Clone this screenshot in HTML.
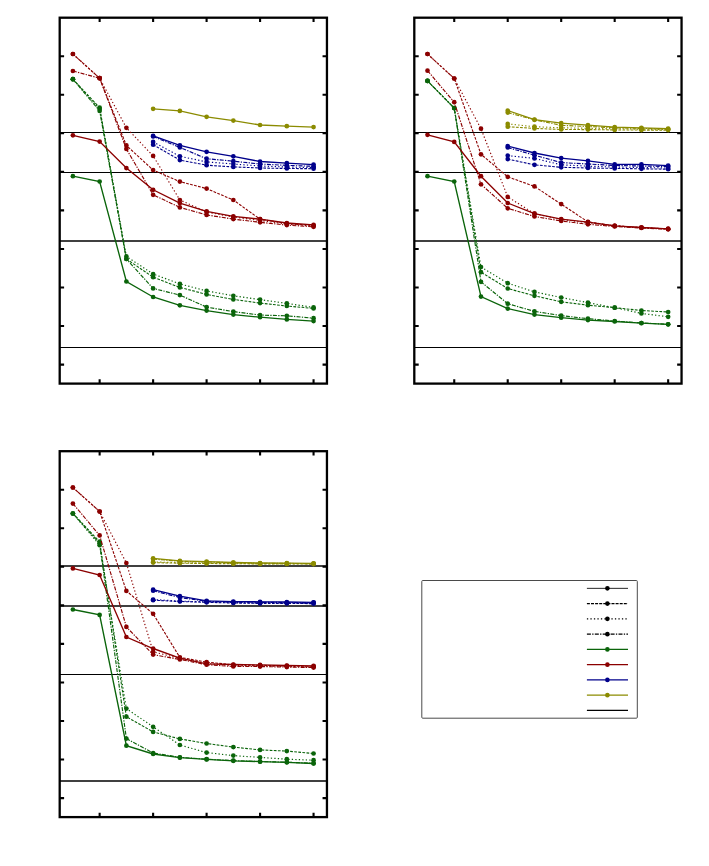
<!DOCTYPE html>
<html><head><meta charset="utf-8"><title>chart</title>
<style>html,body{margin:0;padding:0;background:#fff;font-family:"Liberation Sans",sans-serif}svg{display:block}</style>
</head><body>
<svg width="709" height="866" viewBox="0 0 709 866">
<rect width="709" height="866" fill="#fff"/>
<g transform="translate(0,0)">
<line x1="59.7" x2="326.95" y1="132.5" y2="132.5" stroke="#000" stroke-width="1.15"/>
<line x1="59.7" x2="326.95" y1="172.5" y2="172.5" stroke="#000" stroke-width="1.15"/>
<line x1="59.7" x2="326.95" y1="241.0" y2="241.0" stroke="#000" stroke-width="1.4"/>
<line x1="59.7" x2="326.95" y1="347.5" y2="347.5" stroke="#000" stroke-width="1.15"/>
<polyline points="72.90,79.20 99.64,107.70 126.38,259.00 153.12,277.20 179.86,287.40 206.60,294.40 233.34,299.40 260.08,303.10 286.82,306.00 313.56,308.40" fill="none" stroke="#0a640a" stroke-width="1.1" stroke-dasharray="2.75 1.35"/>
<circle cx="72.90" cy="79.20" r="2.35" fill="#0a640a"/>
<circle cx="99.64" cy="107.70" r="2.35" fill="#0a640a"/>
<circle cx="126.38" cy="259.00" r="2.35" fill="#0a640a"/>
<circle cx="153.12" cy="277.20" r="2.35" fill="#0a640a"/>
<circle cx="179.86" cy="287.40" r="2.35" fill="#0a640a"/>
<circle cx="206.60" cy="294.40" r="2.35" fill="#0a640a"/>
<circle cx="233.34" cy="299.40" r="2.35" fill="#0a640a"/>
<circle cx="260.08" cy="303.10" r="2.35" fill="#0a640a"/>
<circle cx="286.82" cy="306.00" r="2.35" fill="#0a640a"/>
<circle cx="313.56" cy="308.40" r="2.35" fill="#0a640a"/>
<polyline points="72.90,79.20 99.64,109.00 126.38,256.40 153.12,274.00 179.86,283.90 206.60,290.90 233.34,295.80 260.08,299.60 286.82,303.40 313.56,307.40" fill="none" stroke="#0a640a" stroke-width="1.15" stroke-dasharray="1.3 2.2"/>
<circle cx="72.90" cy="79.20" r="2.35" fill="#0a640a"/>
<circle cx="99.64" cy="109.00" r="2.35" fill="#0a640a"/>
<circle cx="126.38" cy="256.40" r="2.35" fill="#0a640a"/>
<circle cx="153.12" cy="274.00" r="2.35" fill="#0a640a"/>
<circle cx="179.86" cy="283.90" r="2.35" fill="#0a640a"/>
<circle cx="206.60" cy="290.90" r="2.35" fill="#0a640a"/>
<circle cx="233.34" cy="295.80" r="2.35" fill="#0a640a"/>
<circle cx="260.08" cy="299.60" r="2.35" fill="#0a640a"/>
<circle cx="286.82" cy="303.40" r="2.35" fill="#0a640a"/>
<circle cx="313.56" cy="307.40" r="2.35" fill="#0a640a"/>
<polyline points="72.90,79.20 99.64,110.90 126.38,259.00 153.12,288.40 179.86,295.10 206.60,307.10 233.34,311.60 260.08,315.10 286.82,315.80 313.56,318.20" fill="none" stroke="#0a640a" stroke-width="1.15" stroke-dasharray="4 1.3 1.3 1.3"/>
<circle cx="72.90" cy="79.20" r="2.35" fill="#0a640a"/>
<circle cx="99.64" cy="110.90" r="2.35" fill="#0a640a"/>
<circle cx="126.38" cy="259.00" r="2.35" fill="#0a640a"/>
<circle cx="153.12" cy="288.40" r="2.35" fill="#0a640a"/>
<circle cx="179.86" cy="295.10" r="2.35" fill="#0a640a"/>
<circle cx="206.60" cy="307.10" r="2.35" fill="#0a640a"/>
<circle cx="233.34" cy="311.60" r="2.35" fill="#0a640a"/>
<circle cx="260.08" cy="315.10" r="2.35" fill="#0a640a"/>
<circle cx="286.82" cy="315.80" r="2.35" fill="#0a640a"/>
<circle cx="313.56" cy="318.20" r="2.35" fill="#0a640a"/>
<polyline points="72.90,176.20 99.64,181.50 126.38,281.50 153.12,297.00 179.86,305.30 206.60,310.60 233.34,314.60 260.08,317.20 286.82,319.40 313.56,321.10" fill="none" stroke="#0a640a" stroke-width="1.35"/>
<circle cx="72.90" cy="176.20" r="2.35" fill="#0a640a"/>
<circle cx="99.64" cy="181.50" r="2.35" fill="#0a640a"/>
<circle cx="126.38" cy="281.50" r="2.35" fill="#0a640a"/>
<circle cx="153.12" cy="297.00" r="2.35" fill="#0a640a"/>
<circle cx="179.86" cy="305.30" r="2.35" fill="#0a640a"/>
<circle cx="206.60" cy="310.60" r="2.35" fill="#0a640a"/>
<circle cx="233.34" cy="314.60" r="2.35" fill="#0a640a"/>
<circle cx="260.08" cy="317.20" r="2.35" fill="#0a640a"/>
<circle cx="286.82" cy="319.40" r="2.35" fill="#0a640a"/>
<circle cx="313.56" cy="321.10" r="2.35" fill="#0a640a"/>
<polyline points="72.90,54.00 99.64,78.20 126.38,145.40 153.12,170.10 179.86,181.60 206.60,188.60 233.34,200.00 260.08,219.20 286.82,223.50 313.56,225.50" fill="none" stroke="#8b0000" stroke-width="1.1" stroke-dasharray="2.75 1.35"/>
<circle cx="72.90" cy="54.00" r="2.35" fill="#8b0000"/>
<circle cx="99.64" cy="78.20" r="2.35" fill="#8b0000"/>
<circle cx="126.38" cy="145.40" r="2.35" fill="#8b0000"/>
<circle cx="153.12" cy="170.10" r="2.35" fill="#8b0000"/>
<circle cx="179.86" cy="181.60" r="2.35" fill="#8b0000"/>
<circle cx="206.60" cy="188.60" r="2.35" fill="#8b0000"/>
<circle cx="233.34" cy="200.00" r="2.35" fill="#8b0000"/>
<circle cx="260.08" cy="219.20" r="2.35" fill="#8b0000"/>
<circle cx="286.82" cy="223.50" r="2.35" fill="#8b0000"/>
<circle cx="313.56" cy="225.50" r="2.35" fill="#8b0000"/>
<polyline points="72.90,54.00 99.64,78.20 126.38,127.80 153.12,155.90 179.86,200.00 206.60,212.00 233.34,217.00 260.08,220.50 286.82,224.00 313.56,226.00" fill="none" stroke="#8b0000" stroke-width="1.15" stroke-dasharray="1.3 2.2"/>
<circle cx="72.90" cy="54.00" r="2.35" fill="#8b0000"/>
<circle cx="99.64" cy="78.20" r="2.35" fill="#8b0000"/>
<circle cx="126.38" cy="127.80" r="2.35" fill="#8b0000"/>
<circle cx="153.12" cy="155.90" r="2.35" fill="#8b0000"/>
<circle cx="179.86" cy="200.00" r="2.35" fill="#8b0000"/>
<circle cx="206.60" cy="212.00" r="2.35" fill="#8b0000"/>
<circle cx="233.34" cy="217.00" r="2.35" fill="#8b0000"/>
<circle cx="260.08" cy="220.50" r="2.35" fill="#8b0000"/>
<circle cx="286.82" cy="224.00" r="2.35" fill="#8b0000"/>
<circle cx="313.56" cy="226.00" r="2.35" fill="#8b0000"/>
<polyline points="72.90,71.00 99.64,78.20 126.38,148.90 153.12,194.80 179.86,207.40 206.60,214.90 233.34,219.10 260.08,222.30 286.82,225.10 313.56,226.80" fill="none" stroke="#8b0000" stroke-width="1.15" stroke-dasharray="4 1.3 1.3 1.3"/>
<circle cx="72.90" cy="71.00" r="2.35" fill="#8b0000"/>
<circle cx="99.64" cy="78.20" r="2.35" fill="#8b0000"/>
<circle cx="126.38" cy="148.90" r="2.35" fill="#8b0000"/>
<circle cx="153.12" cy="194.80" r="2.35" fill="#8b0000"/>
<circle cx="179.86" cy="207.40" r="2.35" fill="#8b0000"/>
<circle cx="206.60" cy="214.90" r="2.35" fill="#8b0000"/>
<circle cx="233.34" cy="219.10" r="2.35" fill="#8b0000"/>
<circle cx="260.08" cy="222.30" r="2.35" fill="#8b0000"/>
<circle cx="286.82" cy="225.10" r="2.35" fill="#8b0000"/>
<circle cx="313.56" cy="226.80" r="2.35" fill="#8b0000"/>
<polyline points="72.90,135.30 99.64,141.60 126.38,168.10 153.12,189.80 179.86,203.10 206.60,211.30 233.34,216.30 260.08,219.20 286.82,223.00 313.56,224.90" fill="none" stroke="#8b0000" stroke-width="1.35"/>
<circle cx="72.90" cy="135.30" r="2.35" fill="#8b0000"/>
<circle cx="99.64" cy="141.60" r="2.35" fill="#8b0000"/>
<circle cx="126.38" cy="168.10" r="2.35" fill="#8b0000"/>
<circle cx="153.12" cy="189.80" r="2.35" fill="#8b0000"/>
<circle cx="179.86" cy="203.10" r="2.35" fill="#8b0000"/>
<circle cx="206.60" cy="211.30" r="2.35" fill="#8b0000"/>
<circle cx="233.34" cy="216.30" r="2.35" fill="#8b0000"/>
<circle cx="260.08" cy="219.20" r="2.35" fill="#8b0000"/>
<circle cx="286.82" cy="223.00" r="2.35" fill="#8b0000"/>
<circle cx="313.56" cy="224.90" r="2.35" fill="#8b0000"/>
<polyline points="153.12,144.70 179.86,160.10 206.60,165.20 233.34,166.90 260.08,168.00 286.82,168.50 313.56,168.70" fill="none" stroke="#00008b" stroke-width="1.1" stroke-dasharray="2.75 1.35"/>
<circle cx="153.12" cy="144.70" r="2.35" fill="#00008b"/>
<circle cx="179.86" cy="160.10" r="2.35" fill="#00008b"/>
<circle cx="206.60" cy="165.20" r="2.35" fill="#00008b"/>
<circle cx="233.34" cy="166.90" r="2.35" fill="#00008b"/>
<circle cx="260.08" cy="168.00" r="2.35" fill="#00008b"/>
<circle cx="286.82" cy="168.50" r="2.35" fill="#00008b"/>
<circle cx="313.56" cy="168.70" r="2.35" fill="#00008b"/>
<polyline points="153.12,141.90 179.86,156.30 206.60,161.90 233.34,164.00 260.08,166.00 286.82,167.00 313.56,167.60" fill="none" stroke="#00008b" stroke-width="1.15" stroke-dasharray="1.3 2.2"/>
<circle cx="153.12" cy="141.90" r="2.35" fill="#00008b"/>
<circle cx="179.86" cy="156.30" r="2.35" fill="#00008b"/>
<circle cx="206.60" cy="161.90" r="2.35" fill="#00008b"/>
<circle cx="233.34" cy="164.00" r="2.35" fill="#00008b"/>
<circle cx="260.08" cy="166.00" r="2.35" fill="#00008b"/>
<circle cx="286.82" cy="167.00" r="2.35" fill="#00008b"/>
<circle cx="313.56" cy="167.60" r="2.35" fill="#00008b"/>
<polyline points="153.12,136.50 179.86,147.50 206.60,158.70 233.34,161.20 260.08,164.00 286.82,165.40 313.56,166.30" fill="none" stroke="#00008b" stroke-width="1.15" stroke-dasharray="4 1.3 1.3 1.3"/>
<circle cx="153.12" cy="136.50" r="2.35" fill="#00008b"/>
<circle cx="179.86" cy="147.50" r="2.35" fill="#00008b"/>
<circle cx="206.60" cy="158.70" r="2.35" fill="#00008b"/>
<circle cx="233.34" cy="161.20" r="2.35" fill="#00008b"/>
<circle cx="260.08" cy="164.00" r="2.35" fill="#00008b"/>
<circle cx="286.82" cy="165.40" r="2.35" fill="#00008b"/>
<circle cx="313.56" cy="166.30" r="2.35" fill="#00008b"/>
<polyline points="153.12,135.80 179.86,145.30 206.60,151.80 233.34,156.30 260.08,161.50 286.82,163.20 313.56,164.60" fill="none" stroke="#00008b" stroke-width="1.35"/>
<circle cx="153.12" cy="135.80" r="2.35" fill="#00008b"/>
<circle cx="179.86" cy="145.30" r="2.35" fill="#00008b"/>
<circle cx="206.60" cy="151.80" r="2.35" fill="#00008b"/>
<circle cx="233.34" cy="156.30" r="2.35" fill="#00008b"/>
<circle cx="260.08" cy="161.50" r="2.35" fill="#00008b"/>
<circle cx="286.82" cy="163.20" r="2.35" fill="#00008b"/>
<circle cx="313.56" cy="164.60" r="2.35" fill="#00008b"/>
<polyline points="153.12,108.80 179.86,110.90 206.60,116.80 233.34,120.60 260.08,125.00 286.82,126.20 313.56,127.10" fill="none" stroke="#8b8b00" stroke-width="1.35"/>
<circle cx="153.12" cy="108.80" r="2.35" fill="#8b8b00"/>
<circle cx="179.86" cy="110.90" r="2.35" fill="#8b8b00"/>
<circle cx="206.60" cy="116.80" r="2.35" fill="#8b8b00"/>
<circle cx="233.34" cy="120.60" r="2.35" fill="#8b8b00"/>
<circle cx="260.08" cy="125.00" r="2.35" fill="#8b8b00"/>
<circle cx="286.82" cy="126.20" r="2.35" fill="#8b8b00"/>
<circle cx="313.56" cy="127.10" r="2.35" fill="#8b8b00"/>
<path d="M59.7,56.20h4.4M326.95,56.20h-4.4M59.7,94.75h4.4M326.95,94.75h-4.4M59.7,133.30h4.4M326.95,133.30h-4.4M59.7,171.85h4.4M326.95,171.85h-4.4M59.7,210.40h4.4M326.95,210.40h-4.4M59.7,248.95h4.4M326.95,248.95h-4.4M59.7,287.50h4.4M326.95,287.50h-4.4M59.7,326.05h4.4M326.95,326.05h-4.4M59.7,364.60h4.4M326.95,364.60h-4.4M99.64,17.7v4.4M99.64,383.6v-4.4M153.12,17.7v4.4M153.12,383.6v-4.4M206.60,17.7v4.4M206.60,383.6v-4.4M260.08,17.7v4.4M260.08,383.6v-4.4M313.56,17.7v4.4M313.56,383.6v-4.4" stroke="#000" stroke-width="2.1" fill="none"/>
<rect x="59.7" y="17.7" width="267.25" height="365.90" fill="none" stroke="#000" stroke-width="2.3"/>
</g>
<g transform="translate(354.6,0)">
<line x1="59.7" x2="326.95" y1="132.5" y2="132.5" stroke="#000" stroke-width="1.15"/>
<line x1="59.7" x2="326.95" y1="172.5" y2="172.5" stroke="#000" stroke-width="1.15"/>
<line x1="59.7" x2="326.95" y1="241.0" y2="241.0" stroke="#000" stroke-width="1.4"/>
<line x1="59.7" x2="326.95" y1="347.5" y2="347.5" stroke="#000" stroke-width="1.15"/>
<polyline points="72.90,80.90 99.64,108.10 126.38,272.20 153.12,288.50 179.86,295.80 206.60,301.80 233.34,305.20 260.08,307.70 286.82,310.50 313.56,312.00" fill="none" stroke="#0a640a" stroke-width="1.1" stroke-dasharray="2.75 1.35"/>
<circle cx="72.90" cy="80.90" r="2.35" fill="#0a640a"/>
<circle cx="99.64" cy="108.10" r="2.35" fill="#0a640a"/>
<circle cx="126.38" cy="272.20" r="2.35" fill="#0a640a"/>
<circle cx="153.12" cy="288.50" r="2.35" fill="#0a640a"/>
<circle cx="179.86" cy="295.80" r="2.35" fill="#0a640a"/>
<circle cx="206.60" cy="301.80" r="2.35" fill="#0a640a"/>
<circle cx="233.34" cy="305.20" r="2.35" fill="#0a640a"/>
<circle cx="260.08" cy="307.70" r="2.35" fill="#0a640a"/>
<circle cx="286.82" cy="310.50" r="2.35" fill="#0a640a"/>
<circle cx="313.56" cy="312.00" r="2.35" fill="#0a640a"/>
<polyline points="72.90,80.90 99.64,108.10 126.38,267.00 153.12,283.20 179.86,291.90 206.60,297.50 233.34,302.60 260.08,307.70 286.82,313.40 313.56,316.80" fill="none" stroke="#0a640a" stroke-width="1.15" stroke-dasharray="1.3 2.2"/>
<circle cx="72.90" cy="80.90" r="2.35" fill="#0a640a"/>
<circle cx="99.64" cy="108.10" r="2.35" fill="#0a640a"/>
<circle cx="126.38" cy="267.00" r="2.35" fill="#0a640a"/>
<circle cx="153.12" cy="283.20" r="2.35" fill="#0a640a"/>
<circle cx="179.86" cy="291.90" r="2.35" fill="#0a640a"/>
<circle cx="206.60" cy="297.50" r="2.35" fill="#0a640a"/>
<circle cx="233.34" cy="302.60" r="2.35" fill="#0a640a"/>
<circle cx="260.08" cy="307.70" r="2.35" fill="#0a640a"/>
<circle cx="286.82" cy="313.40" r="2.35" fill="#0a640a"/>
<circle cx="313.56" cy="316.80" r="2.35" fill="#0a640a"/>
<polyline points="72.90,80.90 99.64,108.10 126.38,281.80 153.12,303.70 179.86,311.40 206.60,315.60 233.34,318.70 260.08,321.00 286.82,323.00 313.56,324.30" fill="none" stroke="#0a640a" stroke-width="1.15" stroke-dasharray="4 1.3 1.3 1.3"/>
<circle cx="72.90" cy="80.90" r="2.35" fill="#0a640a"/>
<circle cx="99.64" cy="108.10" r="2.35" fill="#0a640a"/>
<circle cx="126.38" cy="281.80" r="2.35" fill="#0a640a"/>
<circle cx="153.12" cy="303.70" r="2.35" fill="#0a640a"/>
<circle cx="179.86" cy="311.40" r="2.35" fill="#0a640a"/>
<circle cx="206.60" cy="315.60" r="2.35" fill="#0a640a"/>
<circle cx="233.34" cy="318.70" r="2.35" fill="#0a640a"/>
<circle cx="260.08" cy="321.00" r="2.35" fill="#0a640a"/>
<circle cx="286.82" cy="323.00" r="2.35" fill="#0a640a"/>
<circle cx="313.56" cy="324.30" r="2.35" fill="#0a640a"/>
<polyline points="72.90,176.20 99.64,181.50 126.38,296.60 153.12,308.60 179.86,314.60 206.60,317.70 233.34,320.10 260.08,321.50 286.82,323.20 313.56,324.30" fill="none" stroke="#0a640a" stroke-width="1.35"/>
<circle cx="72.90" cy="176.20" r="2.35" fill="#0a640a"/>
<circle cx="99.64" cy="181.50" r="2.35" fill="#0a640a"/>
<circle cx="126.38" cy="296.60" r="2.35" fill="#0a640a"/>
<circle cx="153.12" cy="308.60" r="2.35" fill="#0a640a"/>
<circle cx="179.86" cy="314.60" r="2.35" fill="#0a640a"/>
<circle cx="206.60" cy="317.70" r="2.35" fill="#0a640a"/>
<circle cx="233.34" cy="320.10" r="2.35" fill="#0a640a"/>
<circle cx="260.08" cy="321.50" r="2.35" fill="#0a640a"/>
<circle cx="286.82" cy="323.20" r="2.35" fill="#0a640a"/>
<circle cx="313.56" cy="324.30" r="2.35" fill="#0a640a"/>
<polyline points="72.90,54.00 99.64,78.50 126.38,154.30 153.12,176.80 179.86,186.40 206.60,204.10 233.34,221.90 260.08,225.80 286.82,227.50 313.56,228.90" fill="none" stroke="#8b0000" stroke-width="1.1" stroke-dasharray="2.75 1.35"/>
<circle cx="72.90" cy="54.00" r="2.35" fill="#8b0000"/>
<circle cx="99.64" cy="78.50" r="2.35" fill="#8b0000"/>
<circle cx="126.38" cy="154.30" r="2.35" fill="#8b0000"/>
<circle cx="153.12" cy="176.80" r="2.35" fill="#8b0000"/>
<circle cx="179.86" cy="186.40" r="2.35" fill="#8b0000"/>
<circle cx="206.60" cy="204.10" r="2.35" fill="#8b0000"/>
<circle cx="233.34" cy="221.90" r="2.35" fill="#8b0000"/>
<circle cx="260.08" cy="225.80" r="2.35" fill="#8b0000"/>
<circle cx="286.82" cy="227.50" r="2.35" fill="#8b0000"/>
<circle cx="313.56" cy="228.90" r="2.35" fill="#8b0000"/>
<polyline points="72.90,54.00 99.64,78.50 126.38,128.70 153.12,196.90 179.86,213.70 206.60,219.50 233.34,222.50 260.08,225.80 286.82,227.50 313.56,228.90" fill="none" stroke="#8b0000" stroke-width="1.15" stroke-dasharray="1.3 2.2"/>
<circle cx="72.90" cy="54.00" r="2.35" fill="#8b0000"/>
<circle cx="99.64" cy="78.50" r="2.35" fill="#8b0000"/>
<circle cx="126.38" cy="128.70" r="2.35" fill="#8b0000"/>
<circle cx="153.12" cy="196.90" r="2.35" fill="#8b0000"/>
<circle cx="179.86" cy="213.70" r="2.35" fill="#8b0000"/>
<circle cx="206.60" cy="219.50" r="2.35" fill="#8b0000"/>
<circle cx="233.34" cy="222.50" r="2.35" fill="#8b0000"/>
<circle cx="260.08" cy="225.80" r="2.35" fill="#8b0000"/>
<circle cx="286.82" cy="227.50" r="2.35" fill="#8b0000"/>
<circle cx="313.56" cy="228.90" r="2.35" fill="#8b0000"/>
<polyline points="72.90,70.70 99.64,102.20 126.38,184.30 153.12,208.30 179.86,216.50 206.60,221.00 233.34,224.30 260.08,226.50 286.82,228.00 313.56,229.30" fill="none" stroke="#8b0000" stroke-width="1.15" stroke-dasharray="4 1.3 1.3 1.3"/>
<circle cx="72.90" cy="70.70" r="2.35" fill="#8b0000"/>
<circle cx="99.64" cy="102.20" r="2.35" fill="#8b0000"/>
<circle cx="126.38" cy="184.30" r="2.35" fill="#8b0000"/>
<circle cx="153.12" cy="208.30" r="2.35" fill="#8b0000"/>
<circle cx="179.86" cy="216.50" r="2.35" fill="#8b0000"/>
<circle cx="206.60" cy="221.00" r="2.35" fill="#8b0000"/>
<circle cx="233.34" cy="224.30" r="2.35" fill="#8b0000"/>
<circle cx="260.08" cy="226.50" r="2.35" fill="#8b0000"/>
<circle cx="286.82" cy="228.00" r="2.35" fill="#8b0000"/>
<circle cx="313.56" cy="229.30" r="2.35" fill="#8b0000"/>
<polyline points="72.90,134.80 99.64,141.90 126.38,176.20 153.12,203.00 179.86,213.70 206.60,219.10 233.34,222.20 260.08,225.80 286.82,227.50 313.56,228.90" fill="none" stroke="#8b0000" stroke-width="1.35"/>
<circle cx="72.90" cy="134.80" r="2.35" fill="#8b0000"/>
<circle cx="99.64" cy="141.90" r="2.35" fill="#8b0000"/>
<circle cx="126.38" cy="176.20" r="2.35" fill="#8b0000"/>
<circle cx="153.12" cy="203.00" r="2.35" fill="#8b0000"/>
<circle cx="179.86" cy="213.70" r="2.35" fill="#8b0000"/>
<circle cx="206.60" cy="219.10" r="2.35" fill="#8b0000"/>
<circle cx="233.34" cy="222.20" r="2.35" fill="#8b0000"/>
<circle cx="260.08" cy="225.80" r="2.35" fill="#8b0000"/>
<circle cx="286.82" cy="227.50" r="2.35" fill="#8b0000"/>
<circle cx="313.56" cy="228.90" r="2.35" fill="#8b0000"/>
<polyline points="153.12,159.10 179.86,164.80 206.60,167.30 233.34,168.00 260.08,168.40 286.82,168.80 313.56,169.20" fill="none" stroke="#00008b" stroke-width="1.1" stroke-dasharray="2.75 1.35"/>
<circle cx="153.12" cy="159.10" r="2.35" fill="#00008b"/>
<circle cx="179.86" cy="164.80" r="2.35" fill="#00008b"/>
<circle cx="206.60" cy="167.30" r="2.35" fill="#00008b"/>
<circle cx="233.34" cy="168.00" r="2.35" fill="#00008b"/>
<circle cx="260.08" cy="168.40" r="2.35" fill="#00008b"/>
<circle cx="286.82" cy="168.80" r="2.35" fill="#00008b"/>
<circle cx="313.56" cy="169.20" r="2.35" fill="#00008b"/>
<polyline points="153.12,155.60 179.86,158.40 206.60,164.80 233.34,166.20 260.08,167.00 286.82,167.50 313.56,168.00" fill="none" stroke="#00008b" stroke-width="1.15" stroke-dasharray="1.3 2.2"/>
<circle cx="153.12" cy="155.60" r="2.35" fill="#00008b"/>
<circle cx="179.86" cy="158.40" r="2.35" fill="#00008b"/>
<circle cx="206.60" cy="164.80" r="2.35" fill="#00008b"/>
<circle cx="233.34" cy="166.20" r="2.35" fill="#00008b"/>
<circle cx="260.08" cy="167.00" r="2.35" fill="#00008b"/>
<circle cx="286.82" cy="167.50" r="2.35" fill="#00008b"/>
<circle cx="313.56" cy="168.00" r="2.35" fill="#00008b"/>
<polyline points="153.12,147.50 179.86,155.20 206.60,162.60 233.34,164.00 260.08,165.50 286.82,166.00 313.56,166.50" fill="none" stroke="#00008b" stroke-width="1.15" stroke-dasharray="4 1.3 1.3 1.3"/>
<circle cx="153.12" cy="147.50" r="2.35" fill="#00008b"/>
<circle cx="179.86" cy="155.20" r="2.35" fill="#00008b"/>
<circle cx="206.60" cy="162.60" r="2.35" fill="#00008b"/>
<circle cx="233.34" cy="164.00" r="2.35" fill="#00008b"/>
<circle cx="260.08" cy="165.50" r="2.35" fill="#00008b"/>
<circle cx="286.82" cy="166.00" r="2.35" fill="#00008b"/>
<circle cx="313.56" cy="166.50" r="2.35" fill="#00008b"/>
<polyline points="153.12,146.10 179.86,153.00 206.60,158.10 233.34,160.80 260.08,164.40 286.82,164.40 313.56,165.60" fill="none" stroke="#00008b" stroke-width="1.35"/>
<circle cx="153.12" cy="146.10" r="2.35" fill="#00008b"/>
<circle cx="179.86" cy="153.00" r="2.35" fill="#00008b"/>
<circle cx="206.60" cy="158.10" r="2.35" fill="#00008b"/>
<circle cx="233.34" cy="160.80" r="2.35" fill="#00008b"/>
<circle cx="260.08" cy="164.40" r="2.35" fill="#00008b"/>
<circle cx="286.82" cy="164.40" r="2.35" fill="#00008b"/>
<circle cx="313.56" cy="165.60" r="2.35" fill="#00008b"/>
<polyline points="153.12,126.70 179.86,128.40 206.60,129.50 233.34,129.60 260.08,129.90 286.82,130.10 313.56,130.10" fill="none" stroke="#8b8b00" stroke-width="1.1" stroke-dasharray="2.75 1.35"/>
<circle cx="153.12" cy="126.70" r="2.35" fill="#8b8b00"/>
<circle cx="179.86" cy="128.40" r="2.35" fill="#8b8b00"/>
<circle cx="206.60" cy="129.50" r="2.35" fill="#8b8b00"/>
<circle cx="233.34" cy="129.60" r="2.35" fill="#8b8b00"/>
<circle cx="260.08" cy="129.90" r="2.35" fill="#8b8b00"/>
<circle cx="286.82" cy="130.10" r="2.35" fill="#8b8b00"/>
<circle cx="313.56" cy="130.10" r="2.35" fill="#8b8b00"/>
<polyline points="153.12,123.90 179.86,126.70 206.60,127.80 233.34,128.30 260.08,128.80 286.82,129.20 313.56,129.50" fill="none" stroke="#8b8b00" stroke-width="1.15" stroke-dasharray="1.3 2.2"/>
<circle cx="153.12" cy="123.90" r="2.35" fill="#8b8b00"/>
<circle cx="179.86" cy="126.70" r="2.35" fill="#8b8b00"/>
<circle cx="206.60" cy="127.80" r="2.35" fill="#8b8b00"/>
<circle cx="233.34" cy="128.30" r="2.35" fill="#8b8b00"/>
<circle cx="260.08" cy="128.80" r="2.35" fill="#8b8b00"/>
<circle cx="286.82" cy="129.20" r="2.35" fill="#8b8b00"/>
<circle cx="313.56" cy="129.50" r="2.35" fill="#8b8b00"/>
<polyline points="153.12,112.60 179.86,119.80 206.60,125.30 233.34,126.50 260.08,127.80 286.82,128.40 313.56,129.00" fill="none" stroke="#8b8b00" stroke-width="1.15" stroke-dasharray="4 1.3 1.3 1.3"/>
<circle cx="153.12" cy="112.60" r="2.35" fill="#8b8b00"/>
<circle cx="179.86" cy="119.80" r="2.35" fill="#8b8b00"/>
<circle cx="206.60" cy="125.30" r="2.35" fill="#8b8b00"/>
<circle cx="233.34" cy="126.50" r="2.35" fill="#8b8b00"/>
<circle cx="260.08" cy="127.80" r="2.35" fill="#8b8b00"/>
<circle cx="286.82" cy="128.40" r="2.35" fill="#8b8b00"/>
<circle cx="313.56" cy="129.00" r="2.35" fill="#8b8b00"/>
<polyline points="153.12,110.50 179.86,119.60 206.60,123.10 233.34,125.20 260.08,127.10 286.82,127.80 313.56,128.70" fill="none" stroke="#8b8b00" stroke-width="1.35"/>
<circle cx="153.12" cy="110.50" r="2.35" fill="#8b8b00"/>
<circle cx="179.86" cy="119.60" r="2.35" fill="#8b8b00"/>
<circle cx="206.60" cy="123.10" r="2.35" fill="#8b8b00"/>
<circle cx="233.34" cy="125.20" r="2.35" fill="#8b8b00"/>
<circle cx="260.08" cy="127.10" r="2.35" fill="#8b8b00"/>
<circle cx="286.82" cy="127.80" r="2.35" fill="#8b8b00"/>
<circle cx="313.56" cy="128.70" r="2.35" fill="#8b8b00"/>
<path d="M59.7,56.20h4.4M326.95,56.20h-4.4M59.7,94.75h4.4M326.95,94.75h-4.4M59.7,133.30h4.4M326.95,133.30h-4.4M59.7,171.85h4.4M326.95,171.85h-4.4M59.7,210.40h4.4M326.95,210.40h-4.4M59.7,248.95h4.4M326.95,248.95h-4.4M59.7,287.50h4.4M326.95,287.50h-4.4M59.7,326.05h4.4M326.95,326.05h-4.4M59.7,364.60h4.4M326.95,364.60h-4.4M99.64,17.7v4.4M99.64,383.6v-4.4M153.12,17.7v4.4M153.12,383.6v-4.4M206.60,17.7v4.4M206.60,383.6v-4.4M260.08,17.7v4.4M260.08,383.6v-4.4M313.56,17.7v4.4M313.56,383.6v-4.4" stroke="#000" stroke-width="2.1" fill="none"/>
<rect x="59.7" y="17.7" width="267.25" height="365.90" fill="none" stroke="#000" stroke-width="2.3"/>
</g>
<g transform="translate(0,433.5)">
<line x1="59.7" x2="326.95" y1="132.5" y2="132.5" stroke="#000" stroke-width="1.4"/>
<line x1="59.7" x2="326.95" y1="172.5" y2="172.5" stroke="#000" stroke-width="1.4"/>
<line x1="59.7" x2="326.95" y1="241.0" y2="241.0" stroke="#000" stroke-width="1.15"/>
<line x1="59.7" x2="326.95" y1="347.5" y2="347.5" stroke="#000" stroke-width="1.4"/>
<polyline points="72.90,80.00 99.64,108.20 126.38,283.20 153.12,298.40 179.86,305.40 206.60,310.00 233.34,313.60 260.08,316.40 286.82,317.60 313.56,320.00" fill="none" stroke="#0a640a" stroke-width="1.1" stroke-dasharray="2.75 1.35"/>
<circle cx="72.90" cy="80.00" r="2.35" fill="#0a640a"/>
<circle cx="99.64" cy="108.20" r="2.35" fill="#0a640a"/>
<circle cx="126.38" cy="283.20" r="2.35" fill="#0a640a"/>
<circle cx="153.12" cy="298.40" r="2.35" fill="#0a640a"/>
<circle cx="179.86" cy="305.40" r="2.35" fill="#0a640a"/>
<circle cx="206.60" cy="310.00" r="2.35" fill="#0a640a"/>
<circle cx="233.34" cy="313.60" r="2.35" fill="#0a640a"/>
<circle cx="260.08" cy="316.40" r="2.35" fill="#0a640a"/>
<circle cx="286.82" cy="317.60" r="2.35" fill="#0a640a"/>
<circle cx="313.56" cy="320.00" r="2.35" fill="#0a640a"/>
<polyline points="72.90,80.00 99.64,111.70 126.38,275.10 153.12,293.30 179.86,311.50 206.60,319.10 233.34,322.10 260.08,323.90 286.82,325.70 313.56,326.70" fill="none" stroke="#0a640a" stroke-width="1.15" stroke-dasharray="1.3 2.2"/>
<circle cx="72.90" cy="80.00" r="2.35" fill="#0a640a"/>
<circle cx="99.64" cy="111.70" r="2.35" fill="#0a640a"/>
<circle cx="126.38" cy="275.10" r="2.35" fill="#0a640a"/>
<circle cx="153.12" cy="293.30" r="2.35" fill="#0a640a"/>
<circle cx="179.86" cy="311.50" r="2.35" fill="#0a640a"/>
<circle cx="206.60" cy="319.10" r="2.35" fill="#0a640a"/>
<circle cx="233.34" cy="322.10" r="2.35" fill="#0a640a"/>
<circle cx="260.08" cy="323.90" r="2.35" fill="#0a640a"/>
<circle cx="286.82" cy="325.70" r="2.35" fill="#0a640a"/>
<circle cx="313.56" cy="326.70" r="2.35" fill="#0a640a"/>
<polyline points="72.90,80.00 99.64,110.00 126.38,305.10 153.12,319.50 179.86,323.80 206.60,325.70 233.34,327.10 260.08,328.00 286.82,328.70 313.56,329.80" fill="none" stroke="#0a640a" stroke-width="1.15" stroke-dasharray="4 1.3 1.3 1.3"/>
<circle cx="72.90" cy="80.00" r="2.35" fill="#0a640a"/>
<circle cx="99.64" cy="110.00" r="2.35" fill="#0a640a"/>
<circle cx="126.38" cy="305.10" r="2.35" fill="#0a640a"/>
<circle cx="153.12" cy="319.50" r="2.35" fill="#0a640a"/>
<circle cx="179.86" cy="323.80" r="2.35" fill="#0a640a"/>
<circle cx="206.60" cy="325.70" r="2.35" fill="#0a640a"/>
<circle cx="233.34" cy="327.10" r="2.35" fill="#0a640a"/>
<circle cx="260.08" cy="328.00" r="2.35" fill="#0a640a"/>
<circle cx="286.82" cy="328.70" r="2.35" fill="#0a640a"/>
<circle cx="313.56" cy="329.80" r="2.35" fill="#0a640a"/>
<polyline points="72.90,176.00 99.64,181.40 126.38,312.20 153.12,320.50 179.86,324.20 206.60,325.90 233.34,327.30 260.08,328.10 286.82,328.80 313.56,330.00" fill="none" stroke="#0a640a" stroke-width="1.35"/>
<circle cx="72.90" cy="176.00" r="2.35" fill="#0a640a"/>
<circle cx="99.64" cy="181.40" r="2.35" fill="#0a640a"/>
<circle cx="126.38" cy="312.20" r="2.35" fill="#0a640a"/>
<circle cx="153.12" cy="320.50" r="2.35" fill="#0a640a"/>
<circle cx="179.86" cy="324.20" r="2.35" fill="#0a640a"/>
<circle cx="206.60" cy="325.90" r="2.35" fill="#0a640a"/>
<circle cx="233.34" cy="327.30" r="2.35" fill="#0a640a"/>
<circle cx="260.08" cy="328.10" r="2.35" fill="#0a640a"/>
<circle cx="286.82" cy="328.80" r="2.35" fill="#0a640a"/>
<circle cx="313.56" cy="330.00" r="2.35" fill="#0a640a"/>
<polyline points="72.90,54.00 99.64,78.00 126.38,157.40 153.12,180.30 179.86,223.90 206.60,228.60 233.34,231.30 260.08,231.80 286.82,232.40 313.56,232.80" fill="none" stroke="#8b0000" stroke-width="1.1" stroke-dasharray="2.75 1.35"/>
<circle cx="72.90" cy="54.00" r="2.35" fill="#8b0000"/>
<circle cx="99.64" cy="78.00" r="2.35" fill="#8b0000"/>
<circle cx="126.38" cy="157.40" r="2.35" fill="#8b0000"/>
<circle cx="153.12" cy="180.30" r="2.35" fill="#8b0000"/>
<circle cx="179.86" cy="223.90" r="2.35" fill="#8b0000"/>
<circle cx="206.60" cy="228.60" r="2.35" fill="#8b0000"/>
<circle cx="233.34" cy="231.30" r="2.35" fill="#8b0000"/>
<circle cx="260.08" cy="231.80" r="2.35" fill="#8b0000"/>
<circle cx="286.82" cy="232.40" r="2.35" fill="#8b0000"/>
<circle cx="313.56" cy="232.80" r="2.35" fill="#8b0000"/>
<polyline points="72.90,54.00 99.64,78.00 126.38,129.50 153.12,218.30 179.86,225.00 206.60,230.00 233.34,232.00 260.08,232.40 286.82,233.00 313.56,233.50" fill="none" stroke="#8b0000" stroke-width="1.15" stroke-dasharray="1.3 2.2"/>
<circle cx="72.90" cy="54.00" r="2.35" fill="#8b0000"/>
<circle cx="99.64" cy="78.00" r="2.35" fill="#8b0000"/>
<circle cx="126.38" cy="129.50" r="2.35" fill="#8b0000"/>
<circle cx="153.12" cy="218.30" r="2.35" fill="#8b0000"/>
<circle cx="179.86" cy="225.00" r="2.35" fill="#8b0000"/>
<circle cx="206.60" cy="230.00" r="2.35" fill="#8b0000"/>
<circle cx="233.34" cy="232.00" r="2.35" fill="#8b0000"/>
<circle cx="260.08" cy="232.40" r="2.35" fill="#8b0000"/>
<circle cx="286.82" cy="233.00" r="2.35" fill="#8b0000"/>
<circle cx="313.56" cy="233.50" r="2.35" fill="#8b0000"/>
<polyline points="72.90,70.10 99.64,101.90 126.38,193.40 153.12,221.10 179.86,226.00 206.60,231.20 233.34,233.00 260.08,233.05 286.82,233.55 313.56,234.05" fill="none" stroke="#8b0000" stroke-width="1.15" stroke-dasharray="4 1.3 1.3 1.3"/>
<circle cx="72.90" cy="70.10" r="2.35" fill="#8b0000"/>
<circle cx="99.64" cy="101.90" r="2.35" fill="#8b0000"/>
<circle cx="126.38" cy="193.40" r="2.35" fill="#8b0000"/>
<circle cx="153.12" cy="221.10" r="2.35" fill="#8b0000"/>
<circle cx="179.86" cy="226.00" r="2.35" fill="#8b0000"/>
<circle cx="206.60" cy="231.20" r="2.35" fill="#8b0000"/>
<circle cx="233.34" cy="233.00" r="2.35" fill="#8b0000"/>
<circle cx="260.08" cy="233.05" r="2.35" fill="#8b0000"/>
<circle cx="286.82" cy="233.55" r="2.35" fill="#8b0000"/>
<circle cx="313.56" cy="234.05" r="2.35" fill="#8b0000"/>
<polyline points="72.90,134.90 99.64,141.50 126.38,203.50 153.12,215.00 179.86,224.60 206.60,230.30 233.34,231.00 260.08,231.40 286.82,232.00 313.56,232.40" fill="none" stroke="#8b0000" stroke-width="1.35"/>
<circle cx="72.90" cy="134.90" r="2.35" fill="#8b0000"/>
<circle cx="99.64" cy="141.50" r="2.35" fill="#8b0000"/>
<circle cx="126.38" cy="203.50" r="2.35" fill="#8b0000"/>
<circle cx="153.12" cy="215.00" r="2.35" fill="#8b0000"/>
<circle cx="179.86" cy="224.60" r="2.35" fill="#8b0000"/>
<circle cx="206.60" cy="230.30" r="2.35" fill="#8b0000"/>
<circle cx="233.34" cy="231.00" r="2.35" fill="#8b0000"/>
<circle cx="260.08" cy="231.40" r="2.35" fill="#8b0000"/>
<circle cx="286.82" cy="232.00" r="2.35" fill="#8b0000"/>
<circle cx="313.56" cy="232.40" r="2.35" fill="#8b0000"/>
<polyline points="153.12,166.70 179.86,168.00 206.60,168.80 233.34,169.50 260.08,169.90 286.82,170.00 313.56,170.10" fill="none" stroke="#00008b" stroke-width="1.1" stroke-dasharray="2.75 1.35"/>
<circle cx="153.12" cy="166.70" r="2.35" fill="#00008b"/>
<circle cx="179.86" cy="168.00" r="2.35" fill="#00008b"/>
<circle cx="206.60" cy="168.80" r="2.35" fill="#00008b"/>
<circle cx="233.34" cy="169.50" r="2.35" fill="#00008b"/>
<circle cx="260.08" cy="169.90" r="2.35" fill="#00008b"/>
<circle cx="286.82" cy="170.00" r="2.35" fill="#00008b"/>
<circle cx="313.56" cy="170.10" r="2.35" fill="#00008b"/>
<polyline points="153.12,166.00 179.86,167.60 206.60,168.40 233.34,169.10 260.08,169.40 286.82,169.50 313.56,169.70" fill="none" stroke="#00008b" stroke-width="1.15" stroke-dasharray="1.3 2.2"/>
<circle cx="153.12" cy="166.00" r="2.35" fill="#00008b"/>
<circle cx="179.86" cy="167.60" r="2.35" fill="#00008b"/>
<circle cx="206.60" cy="168.40" r="2.35" fill="#00008b"/>
<circle cx="233.34" cy="169.10" r="2.35" fill="#00008b"/>
<circle cx="260.08" cy="169.40" r="2.35" fill="#00008b"/>
<circle cx="286.82" cy="169.50" r="2.35" fill="#00008b"/>
<circle cx="313.56" cy="169.70" r="2.35" fill="#00008b"/>
<polyline points="153.12,157.20 179.86,164.00 206.60,167.80 233.34,168.60 260.08,168.80 286.82,169.00 313.56,169.20" fill="none" stroke="#00008b" stroke-width="1.15" stroke-dasharray="4 1.3 1.3 1.3"/>
<circle cx="153.12" cy="157.20" r="2.35" fill="#00008b"/>
<circle cx="179.86" cy="164.00" r="2.35" fill="#00008b"/>
<circle cx="206.60" cy="167.80" r="2.35" fill="#00008b"/>
<circle cx="233.34" cy="168.60" r="2.35" fill="#00008b"/>
<circle cx="260.08" cy="168.80" r="2.35" fill="#00008b"/>
<circle cx="286.82" cy="169.00" r="2.35" fill="#00008b"/>
<circle cx="313.56" cy="169.20" r="2.35" fill="#00008b"/>
<polyline points="153.12,156.20 179.86,162.70 206.60,167.40 233.34,168.20 260.08,168.30 286.82,168.50 313.56,168.80" fill="none" stroke="#00008b" stroke-width="1.35"/>
<circle cx="153.12" cy="156.20" r="2.35" fill="#00008b"/>
<circle cx="179.86" cy="162.70" r="2.35" fill="#00008b"/>
<circle cx="206.60" cy="167.40" r="2.35" fill="#00008b"/>
<circle cx="233.34" cy="168.20" r="2.35" fill="#00008b"/>
<circle cx="260.08" cy="168.30" r="2.35" fill="#00008b"/>
<circle cx="286.82" cy="168.50" r="2.35" fill="#00008b"/>
<circle cx="313.56" cy="168.80" r="2.35" fill="#00008b"/>
<polyline points="153.12,129.10 179.86,129.70 206.60,130.00 233.34,130.20 260.08,130.40 286.82,130.50 313.56,130.60" fill="none" stroke="#8b8b00" stroke-width="1.1" stroke-dasharray="2.75 1.35"/>
<circle cx="153.12" cy="129.10" r="2.35" fill="#8b8b00"/>
<circle cx="179.86" cy="129.70" r="2.35" fill="#8b8b00"/>
<circle cx="206.60" cy="130.00" r="2.35" fill="#8b8b00"/>
<circle cx="233.34" cy="130.20" r="2.35" fill="#8b8b00"/>
<circle cx="260.08" cy="130.40" r="2.35" fill="#8b8b00"/>
<circle cx="286.82" cy="130.50" r="2.35" fill="#8b8b00"/>
<circle cx="313.56" cy="130.60" r="2.35" fill="#8b8b00"/>
<polyline points="153.12,128.40 179.86,129.20 206.60,129.70 233.34,129.90 260.08,130.10 286.82,130.20 313.56,130.30" fill="none" stroke="#8b8b00" stroke-width="1.15" stroke-dasharray="1.3 2.2"/>
<circle cx="153.12" cy="128.40" r="2.35" fill="#8b8b00"/>
<circle cx="179.86" cy="129.20" r="2.35" fill="#8b8b00"/>
<circle cx="206.60" cy="129.70" r="2.35" fill="#8b8b00"/>
<circle cx="233.34" cy="129.90" r="2.35" fill="#8b8b00"/>
<circle cx="260.08" cy="130.10" r="2.35" fill="#8b8b00"/>
<circle cx="286.82" cy="130.20" r="2.35" fill="#8b8b00"/>
<circle cx="313.56" cy="130.30" r="2.35" fill="#8b8b00"/>
<polyline points="153.12,125.50 179.86,127.80 206.60,128.50 233.34,129.20 260.08,129.80 286.82,129.90 313.56,130.10" fill="none" stroke="#8b8b00" stroke-width="1.15" stroke-dasharray="4 1.3 1.3 1.3"/>
<circle cx="153.12" cy="125.50" r="2.35" fill="#8b8b00"/>
<circle cx="179.86" cy="127.80" r="2.35" fill="#8b8b00"/>
<circle cx="206.60" cy="128.50" r="2.35" fill="#8b8b00"/>
<circle cx="233.34" cy="129.20" r="2.35" fill="#8b8b00"/>
<circle cx="260.08" cy="129.80" r="2.35" fill="#8b8b00"/>
<circle cx="286.82" cy="129.90" r="2.35" fill="#8b8b00"/>
<circle cx="313.56" cy="130.10" r="2.35" fill="#8b8b00"/>
<polyline points="153.12,124.80 179.86,127.40 206.60,128.10 233.34,129.00 260.08,129.50 286.82,129.60 313.56,129.80" fill="none" stroke="#8b8b00" stroke-width="1.35"/>
<circle cx="153.12" cy="124.80" r="2.35" fill="#8b8b00"/>
<circle cx="179.86" cy="127.40" r="2.35" fill="#8b8b00"/>
<circle cx="206.60" cy="128.10" r="2.35" fill="#8b8b00"/>
<circle cx="233.34" cy="129.00" r="2.35" fill="#8b8b00"/>
<circle cx="260.08" cy="129.50" r="2.35" fill="#8b8b00"/>
<circle cx="286.82" cy="129.60" r="2.35" fill="#8b8b00"/>
<circle cx="313.56" cy="129.80" r="2.35" fill="#8b8b00"/>
<path d="M59.7,56.20h4.4M326.95,56.20h-4.4M59.7,94.75h4.4M326.95,94.75h-4.4M59.7,133.30h4.4M326.95,133.30h-4.4M59.7,171.85h4.4M326.95,171.85h-4.4M59.7,210.40h4.4M326.95,210.40h-4.4M59.7,248.95h4.4M326.95,248.95h-4.4M59.7,287.50h4.4M326.95,287.50h-4.4M59.7,326.05h4.4M326.95,326.05h-4.4M59.7,364.60h4.4M326.95,364.60h-4.4M99.64,17.7v4.4M99.64,383.6v-4.4M153.12,17.7v4.4M153.12,383.6v-4.4M206.60,17.7v4.4M206.60,383.6v-4.4M260.08,17.7v4.4M260.08,383.6v-4.4M313.56,17.7v4.4M313.56,383.6v-4.4" stroke="#000" stroke-width="2.1" fill="none"/>
<rect x="59.7" y="17.7" width="267.25" height="365.90" fill="none" stroke="#000" stroke-width="2.3"/>
</g>
<rect x="421.8" y="580.5" width="215.5" height="137.7" rx="0.9" fill="#fff" stroke="#4a4a4a" stroke-width="1"/>
<line x1="586.9" x2="628.0" y1="588.35" y2="588.35" stroke="#000" stroke-width="0.85"/>
<circle cx="607.4" cy="588.35" r="2.3" fill="#000"/>
<line x1="586.9" x2="628.0" y1="603.61" y2="603.61" stroke="#000" stroke-width="1.2" stroke-dasharray="3 1.1"/>
<circle cx="607.4" cy="603.61" r="2.3" fill="#000"/>
<line x1="586.9" x2="628.0" y1="618.87" y2="618.87" stroke="#000" stroke-width="1.25" stroke-dasharray="1.3 2.2"/>
<circle cx="607.4" cy="618.87" r="2.3" fill="#000"/>
<line x1="586.9" x2="628.0" y1="634.13" y2="634.13" stroke="#000" stroke-width="1.2" stroke-dasharray="4 1.3 1.3 1.3"/>
<circle cx="607.4" cy="634.13" r="2.3" fill="#000"/>
<line x1="586.9" x2="628.0" y1="649.39" y2="649.39" stroke="#0a640a" stroke-width="1.2"/>
<circle cx="607.4" cy="649.39" r="2.3" fill="#0a640a"/>
<line x1="586.9" x2="628.0" y1="664.65" y2="664.65" stroke="#8b0000" stroke-width="1.2"/>
<circle cx="607.4" cy="664.65" r="2.3" fill="#8b0000"/>
<line x1="586.9" x2="628.0" y1="679.91" y2="679.91" stroke="#00008b" stroke-width="1.2"/>
<circle cx="607.4" cy="679.91" r="2.3" fill="#00008b"/>
<line x1="586.9" x2="628.0" y1="695.17" y2="695.17" stroke="#8b8b00" stroke-width="1.2"/>
<circle cx="607.4" cy="695.17" r="2.3" fill="#8b8b00"/>
<line x1="586.9" x2="628.0" y1="710.43" y2="710.43" stroke="#000" stroke-width="1.2"/>
</svg>
</body></html>
